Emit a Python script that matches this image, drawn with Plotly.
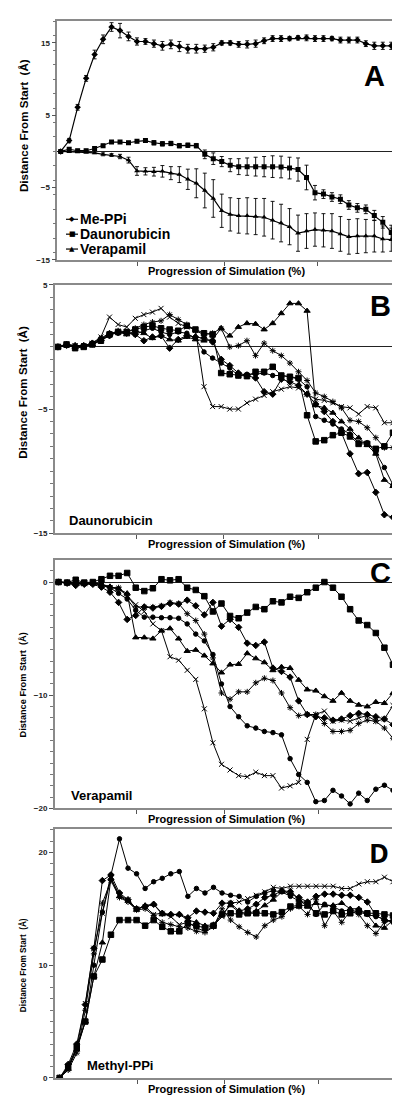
import plotly.graph_objects as go

steps = list(range(40))

# ---------------- Panel A (averages with error bars) ----------------
a_meppi = [0, 1.5, 6.1, 10.1, 13.4, 15.5, 17.2, 16.7, 15.9, 15.2, 15.2, 14.9, 14.6, 14.8, 14.5, 14.2,
           14.2, 14.2, 14.4, 15.0, 15.0, 14.8, 14.8, 14.9, 15.3, 15.6, 15.6, 15.6, 15.7, 15.7, 15.6, 15.6,
           15.6, 15.4, 15.4, 15.4, 14.9, 14.6, 14.6, 14.6]
a_meppi_err = [0, 0.3, 0.4, 0.4, 0.6, 0.6, 0.6, 1.0, 0.6, 0.5, 0.4, 0.5, 0.6, 0.6, 0.7, 0.6, 0.6, 0.5, 0.5,
               0.3, 0.3, 0.4, 0.5, 0.5, 0.4, 0.4, 0.4, 0.3, 0.3, 0.4, 0.4, 0.4, 0.3, 0.4, 0.4, 0.4, 0.4,
               0.5, 0.5, 0.5]
a_dauno = [0, 0.3, 0.1, 0.1, 0.4, 0.8, 1.3, 1.3, 1.2, 1.4, 1.5, 1.2, 1.05, 1.1, 0.8, 0.85, 0.8, -0.4,
           -1.0, -1.4, -1.9, -2.1, -2.1, -2.1, -2.1, -2.1, -2.15, -2.3, -2.5, -3.6, -5.7, -5.9, -6.3,
           -6.6, -7.4, -7.8, -8.0, -8.85, -9.8, -11.2]
a_dauno_err = [0, 0.2, 0.2, 0.2, 0.2, 0.2, 0.2, 0.2, 0.2, 0.2, 0.2, 0.3, 0.3, 0.3, 0.3, 0.3, 0.3, 0.6,
               0.8, 0.7, 0.9, 1.1, 1.2, 1.3, 1.4, 1.5, 1.5, 1.5, 1.6, 1.7, 1.0, 0.6, 0.6, 0.6, 0.6, 0.6,
               0.6, 0.7, 0.8, 1.0]
a_vera = [0, -0.05, -0.05, -0.1, -0.2, -0.4, -0.5, -0.7, -1.2, -2.7, -2.75, -2.8, -2.75, -3.0, -3.2,
          -3.85, -4.4, -5.4, -6.5, -8.2, -8.7, -8.9, -8.9, -9.0, -9.1, -9.5, -9.9, -10.4, -11.3, -11.0,
          -10.8, -10.9, -11.0, -11.4, -11.8, -11.7, -11.7, -11.7, -12.1, -12.2]
a_vera_err = [0, 0.1, 0.1, 0.1, 0.1, 0.2, 0.2, 0.3, 0.4, 0.6, 0.5, 0.6, 0.8, 0.9, 1.1, 1.4, 2.0, 2.4,
              2.6, 2.3, 2.3, 2.4, 2.5, 2.5, 2.6, 2.6, 2.6, 2.5, 2.5, 2.4, 2.3, 2.3, 2.4, 2.4, 2.4, 2.4,
              2.3, 2.2, 1.8, 1.6]
a_names = ["Me-PPi", "Daunorubicin", "Verapamil"]

# ---------------- Panel B (Daunorubicin runs) ----------------
b_diamond = [0, 0.2, 0.1, 0.1, 0.3, 0.5, 0.9, 1.2, 1.1, 1.0, 0.5, 0.8, 0.9, -0.1, 0.6, 0.9, 0.8, 0.7,
             0.4, -1.0, -1.5, -2.1, -2.3, -2.5, -3.6, -3.8, -2.6, -2.8, -3.1, -3.8, -4.6, -5.2, -6.0,
             -6.9, -8.6, -10.2, -10.1, -11.7, -13.5, -13.7]
b_square = [0, 0.2, -0.1, 0.0, 0.2, 0.5, 1.0, 1.2, 1.2, 1.4, 1.6, 1.7, 1.5, 1.4, 1.3, 1.7, 1.4, 1.1, 1.0,
            -2.1, -2.2, -2.3, -2.35, -2.0, -2.0, -1.6, -2.3, -2.4, -2.5, -5.5, -7.6, -7.5, -7.1, -6.9,
            -7.2, -7.8, -7.8, -8.2, -8.0, -6.9]
b_triangle = [0, 0.1, 0.0, 0.1, 0.2, 0.6, 1.1, 1.2, 1.0, 1.3, 1.1, 0.7, 0.9, 0.6, 0.5, 0.8, 0.6, 0.5,
              0.6, 1.5, 0.9, 1.6, 1.9, 1.85, 1.4, 1.9, 2.7, 3.5, 3.5, 2.9, -4.7, -4.9, -5.3, -6.0,
              -6.6, -7.3, -7.9, -8.6, -10.7, -11.2]
b_cross = [0, 0.2, 0.1, 0.1, 0.3, 0.8, 2.4, 1.8, 1.6, 2.3, 2.6, 2.8, 3.1, 2.4, 1.9, 1.6, 1.4, -3.2, -4.8,
           -4.8, -5.0, -5.0, -4.5, -4.2, -3.9, -3.6, -3.4, -3.2, -3.3, -3.8, -4.2, -4.3, -4.5, -4.8,
           -4.9, -5.4, -4.8, -4.9, -6.1, -6.1]
b_star = [0, 0.1, 0.1, 0.1, 0.2, 0.6, 1.0, 1.3, 1.2, 1.5, 1.8, 2.0, 2.1, 2.6, 2.2, 1.8, 1.3, 1.0, 1.1,
          1.5, 0.0, 0.1, 0.5, -0.7, 0.3, -0.3, -0.7, -1.3, -2.0, -2.7, -3.7, -4.0, -4.4, -4.9, -5.9,
          -6.0, -6.5, -7.3, -8.1, -8.1]
b_circle = [0, 0.1, 0.0, 0.1, 0.3, 0.7, 1.1, 1.1, 1.2, 1.0, 1.3, 1.5, 1.2, 1.0, 1.2, 1.1, 0.7, -0.4,
            -0.9, -1.3, -1.7, -2.3, -2.2, -2.2, -2.1, -2.3, -2.3, -2.4, -2.6, -3.2, -5.6, -5.9, -6.2,
            -6.6, -7.0, -7.7, -7.7, -8.5, -9.7, -11.1]

# ---------------- Panel C (Verapamil runs) ----------------
c_square = [0, -0.05, 0.2, -0.05, 0, 0.25, 0.55, 0.55, 0.8, -0.5, -0.8, -0.55, 0.25, 0.15, 0.25, -0.5,
            -0.7, -1.25, -2.6, -1.9, -3.0, -3.2, -2.7, -2.2, -2.4, -1.7, -1.8, -1.3, -1.4, -0.9, -0.5,
            0, -0.5, -1.3, -2.4, -3.4, -3.8, -4.5, -5.8, -7.3]
c_circle = [0, -0.05, -0.2, -0.1, -0.1, -0.2, -0.5, -1.0, -1.5, -2.5, -3.1, -3.1, -3.15, -3.15, -3.2,
            -3.7, -4.6, -5.2, -6.4, -9.0, -11.0, -11.9, -12.7, -12.9, -13.2, -13.3, -13.5, -15.6, -17.0,
            -17.7, -19.4, -19.3, -18.4, -18.9, -19.6, -18.65, -19.3, -18.3, -17.95, -18.4]
c_diamond = [0, -0.1, -0.3, -0.2, -0.2, -0.45, -0.9, -1.8, -3.3, -2.95, -2.2, -2.3, -2.15, -1.9, -1.95,
             -1.6, -2.1, -2.9, -1.8, -3.9, -3.3, -4.0, -5.4, -5.6, -5.3, -7.6, -7.9, -8.4, -10.5,
             -11.7, -11.9, -12.0, -12.2, -12.1, -11.8, -11.6, -11.7, -11.9, -12.1, -12.6]
c_triangle = [0, -0.05, -0.1, -0.15, -0.1, -0.2, -0.4, -0.6, -1.0, -4.9, -4.9, -5.0, -4.3, -4.1, -5.0,
              -6.1, -6.0, -6.5, -7.2, -8.0, -7.3, -7.25, -6.3, -6.75, -7.1, -7.8, -7.5, -7.6, -8.65,
              -9.5, -9.6, -10.1, -10.5, -9.8, -10.5, -10.85, -11.0, -10.6, -10.7, -9.8]
c_cross = [0, -0.05, -0.1, -0.15, -0.1, -0.2, -0.5, -0.6, -1.2, -2.0, -2.6, -3.7, -4.3, -6.6, -6.9, -7.8,
           -8.6, -11.2, -14.2, -16.1, -16.6, -17.1, -17.2, -16.8, -17.1, -17.1, -18.2, -18.0, -17.7,
           -13.9, -11.7, -11.4, -12.3, -12.2, -12.3, -12.0, -11.8, -12.3, -12.1, -10.9]
c_star = [0, -0.05, -0.1, -0.1, -0.1, -0.3, -0.5, -0.5, -1.2, -2.2, -2.2, -2.2, -2.1, -1.8, -1.9, -2.8,
          -3.4, -4.6, -6.7, -9.8, -10.35, -9.7, -9.7, -8.9, -8.5, -8.7, -9.8, -11.1, -11.8, -11.7,
          -11.7, -12.5, -13.2, -13.2, -13.1, -12.5, -12.2, -12.3, -12.9, -13.8]

# ---------------- Panel D (Methyl-PPi runs) ----------------
d_circle = [0, 1.0, 2.7, 5.0, 10.0, 14.7, 18.0, 21.2, 18.6, 18.1, 16.8, 17.4, 17.7, 18.1, 18.3, 16.1,
            16.8, 16.4, 16.9, 16.4, 16.2, 16.1, 15.6, 16.1, 16.4, 16.6, 16.5, 16.1, 15.7, 15.5, 14.5,
            15.4, 15.2, 14.8, 14.9, 14.7, 14.5, 14.3, 14.1, 13.8]
d_square = [0, 1.0, 2.7, 5.0, 9.0, 10.5, 12.7, 14.0, 14.0, 14.0, 13.5, 14.0, 13.4, 13.0, 13.0, 13.7,
            13.5, 13.3, 13.5, 14.5, 14.6, 14.5, 14.6, 14.6, 14.6, 14.5, 14.7, 15.2, 15.3, 15.3, 14.6,
            14.5, 14.8, 14.5, 14.6, 14.8, 14.6, 14.6, 14.5, 14.4]
d_diamond = [0, 1.2, 3.0, 6.5, 11.5, 17.5, 18.0, 16.4, 15.8, 15.0, 15.2, 15.4, 14.6, 14.5, 14.5, 14.2,
             14.8, 14.7, 14.6, 15.5, 15.5, 14.8, 15.0, 15.4, 16.0, 16.2, 16.6, 16.3, 16.0, 15.6, 16.1,
             16.3, 16.3, 16.2, 16.2, 16.0, 15.6, 14.4, 14.0, 13.9]
d_triangle = [0, 0.8, 2.5, 5.0, 9.0, 12.0, 17.7, 16.1, 15.7, 14.9, 15.3, 15.4, 14.5, 14.5, 14.5, 14.0,
              13.8, 13.5, 13.6, 14.5, 15.3, 14.7, 14.6, 14.8, 15.3, 15.8, 16.5, 16.6, 15.8, 15.2, 15.5,
              15.3, 15.3, 15.5, 15.0, 15.0, 14.5, 13.5, 13.3, 14.0]
d_cross = [0, 0.9, 2.6, 6.6, 11.5, 14.6, 17.7, 16.2, 15.8, 15.0, 15.2, 14.5, 14.6, 14.3, 13.6, 13.8,
           13.3, 13.0, 13.5, 14.3, 15.5, 15.6, 15.9, 16.2, 16.5, 16.9, 16.8, 17.0, 17.0, 17.0, 17.0,
           17.0, 17.0, 16.8, 16.8, 17.2, 17.4, 17.4, 17.8, 17.4]
d_star = [0, 0.7, 2.2, 6.0, 11.0, 15.5, 17.5, 16.0, 15.6, 14.9, 15.0, 14.4, 13.8, 13.6, 13.4, 13.3,
          13.0, 12.9, 13.4, 15.0, 14.0, 13.4, 12.9, 12.5, 13.5, 14.0, 14.3, 15.0, 15.2, 14.5, 15.8,
          13.5, 14.8, 13.8, 14.8, 14.5, 13.5, 12.8, 13.8, 14.0]

x_tick_positions = [9.1, 19.3, 30.3]
x_title = "Progression of Simulation (%)"
y_title = "Distance From Start  (Å)"

W, H = 400, 1102
FONT = "Liberation Sans, Arial, sans-serif"

def fx(px):
    return px / W

def fy(py):
    return 1 - py / H

panels = {
    "A": dict(x=(49.3, 387), y=(9.3, 250), yr=[-15, 18], yt=[-15, -5, 5, 15], minor=2, xr=[-0.4, 39.44],
              ytitle=(115, 11.6)),
    "B": dict(x=(46.7, 386.7), y=(275, 525.7), yr=[-15, 5], yt=[-15, -5, 5], minor=1, xr=[-0.38, 39.2],
              ytitle=(384, 11.6)),
    "C": dict(x=(46.7, 386.7), y=(552.7, 803), yr=[-20, 1.93], yt=[-20, -10, 0], minor=1, xr=[-0.45, 39.2],
              ytitle=(679, 9.2)),
    "D": dict(x=(46.7, 386.7), y=(824, 1074.7), yr=[0, 22.05], yt=[0, 10, 20], minor=1, xr=[-0.58, 39.2],
              ytitle=(961, 8.2)),
}

fig = go.Figure()
line_style = dict(color="black", width=1.2)

# Panel A traces
a_series = [(a_meppi, a_meppi_err, "diamond", 5), (a_dauno, a_dauno_err, "square", 5),
            (a_vera, a_vera_err, "triangle-up", 5)]
for name, (vals, err, sym, sz) in zip(a_names, a_series):
    fig.add_trace(go.Scatter(
        x=steps, y=vals, name=name, mode="lines+markers", xaxis="x", yaxis="y",
        line=line_style, marker=dict(symbol=sym, size=sz, color="black"),
        error_y=dict(type="data", array=err, visible=True, color="black", thickness=0.9, width=2),
        showlegend=False))

run_styles = [("diamond", 5), ("square", 5.5), ("triangle-up", 5.5), ("x-thin-open", 5),
              ("asterisk-open", 5), ("circle", 4.5)]

def add_runs(series, ax):
    for vals, (sym, sz) in zip(series, run_styles):
        fig.add_trace(go.Scatter(
            x=steps, y=vals, mode="lines+markers", xaxis="x" + ax, yaxis="y" + ax,
            line=dict(color="black", width=1), showlegend=False,
            marker=dict(symbol=sym, size=sz, color="black", line=dict(color="black", width=1))))

add_runs([b_diamond, b_square, b_triangle, b_cross, b_star, b_circle], "2")
add_runs([c_diamond, c_square, c_triangle, c_cross, c_star, c_circle], "3")
add_runs([d_diamond, d_square, d_triangle, d_cross, d_star, d_circle], "4")

layout = dict(width=W, height=H, autosize=False, margin=dict(l=0, r=0, t=0, b=0),
              paper_bgcolor="white", plot_bgcolor="white", showlegend=False,
              font=dict(family=FONT, color="black"))

annotations = []
shapes = []
for i, (key, p) in enumerate(panels.items()):
    sfx = "" if i == 0 else str(i + 1)
    layout["xaxis" + sfx] = dict(
        domain=[fx(p["x"][0]), fx(p["x"][1])], range=p["xr"], anchor="y" + sfx,
        showgrid=False, zeroline=False, showline=True, mirror=True, linecolor="#8a8a8a", linewidth=1.5,
        tickmode="array", tickvals=x_tick_positions, ticktext=["", "", ""], ticks="outside",
        ticklen=4, tickcolor="#555", tickwidth=1)
    layout["yaxis" + sfx] = dict(
        domain=[fy(p["y"][1]), fy(p["y"][0])], range=p["yr"], anchor="x" + sfx,
        showgrid=False, zeroline=(key != "D"), zerolinecolor="#222", zerolinewidth=1.2,
        showline=True, mirror=True, linecolor="#8a8a8a", linewidth=1.5,
        tickmode="array", tickvals=p["yt"], ticks="outside", ticklen=4, tickcolor="#555",
        tickfont=dict(size=8, family=FONT, color="#222", weight="bold"),
        minor=dict(dtick=p["minor"], tick0=0, ticks="outside", ticklen=3, tickcolor="#777"))
    ymid, ysz = p["ytitle"]
    annotations.append(dict(text=y_title, x=fx(15), y=fy(ymid), xref="paper", yref="paper",
                            textangle=-90, showarrow=False, xanchor="center", yanchor="middle",
                            font=dict(size=ysz, family=FONT, weight="bold")))
    annotations.append(dict(text=x_title, x=fx(218), y=fy(p["y"][1] + 11), xref="paper", yref="paper",
                            showarrow=False, xanchor="center", yanchor="middle",
                            font=dict(size=11, family=FONT, weight="bold")))

letters = [("A", 366, 65, FONT, 29), ("B", 372, 296, FONT, 29), ("C", 372, 566, FONT, 29),
           ("D", 371, 847, "Open Sans, sans-serif", 27)]
for t, x, y, fam, sz in letters:
    annotations.append(dict(text=t, x=fx(x), y=fy(y), xref="paper", yref="paper", showarrow=False,
                            xanchor="center", yanchor="middle",
                            font=dict(size=sz, family=fam, weight="bold")))

labels = [("Daunorubicin", 103, 512.5), ("Verapamil", 93, 790), ("Methyl-PPi", 112, 1062)]
for t, x, y in labels:
    annotations.append(dict(text=t, x=fx(x), y=fy(y), xref="paper", yref="paper", showarrow=False,
                            xanchor="center", yanchor="middle",
                            font=dict(size=13, family=FONT, weight="bold")))

# Legend of panel A (key line + marker glyph + label)
legend_glyphs = ["◆", "■", "▲"]
legend_rows = [209, 224, 239]
for name, glyph, ly in zip(a_names, legend_glyphs, legend_rows):
    shapes.append(dict(type="line", xref="paper", yref="paper", x0=fx(58), x1=fx(70),
                       y0=fy(ly), y1=fy(ly), line=dict(color="black", width=1.2)))
    annotations.append(dict(text=glyph, x=fx(64), y=fy(ly), xref="paper", yref="paper",
                            showarrow=False, xanchor="center", yanchor="middle",
                            font=dict(size=7, family="DejaVu Sans, sans-serif", color="black")))
    annotations.append(dict(text=name, x=fx(70), y=fy(ly), xref="paper", yref="paper",
                            showarrow=False, xanchor="left", yanchor="middle",
                            font=dict(size=14, family=FONT, weight="bold")))

layout["annotations"] = annotations
layout["shapes"] = shapes
fig.update_layout(**layout)
fig.write_html("out.html")
